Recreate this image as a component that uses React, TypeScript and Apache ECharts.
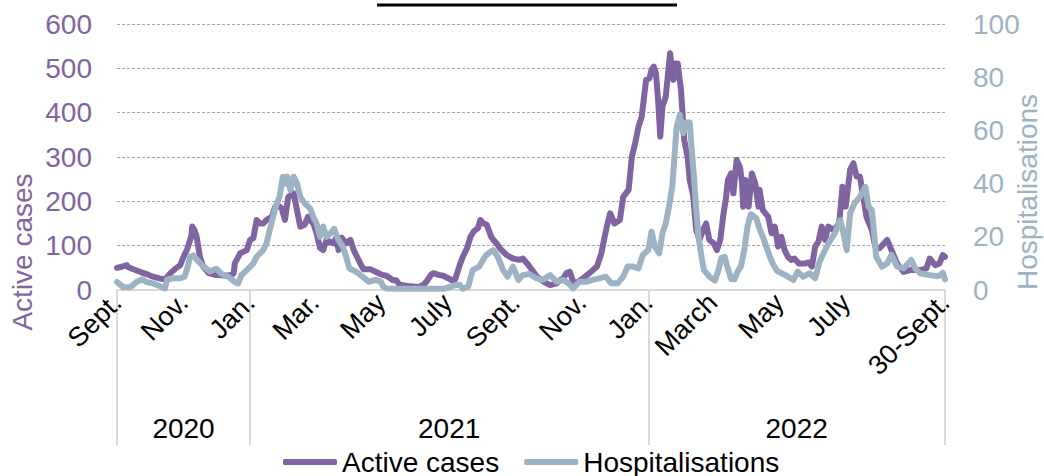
import React, { useEffect, useRef } from "react";
import * as echarts from "echarts";

// Day index from 1 Sept 2020 (0) to 30 Sept 2022 (759)
const activeDays = [0,5,9,10,15,21,27,33,39,44,49,53,58,61,64,68,69,71,73,76,79,84,90,94,100,105,107,108,113,119,122,125,128,131,134,137,142,145,148,151,154,157,160,162,165,168,172,175,178,180,183,186,189,192,198,201,203,206,210,214,217,220,223,226,232,238,243,247,253,256,259,266,272,275,278,281,284,288,290,295,299,304,307,310,314,317,321,324,327,331,333,336,339,343,345,348,351,357,363,369,372,376,379,385,391,397,403,406,409,412,415,418,421,427,433,440,444,447,449,452,456,461,464,469,472,475,478,481,485,488,490,492,494,496,498,500,503,507,510,512,514,517,520,523,525,528,531,534,537,540,543,547,550,553,556,558,560,563,565,568,571,573,574,576,579,582,585,588,589,592,597,600,603,606,609,612,615,618,621,625,631,634,637,640,643,646,649,652,657,662,665,668,672,675,678,681,684,687,692,695,699,706,710,715,721,727,736,742,745,750,754,757,759];
const activeValues = [50,53,56,52,47,41,36,30,26,24,38,47,56,75,90,120,143,135,120,75,53,38,34,34,32,34,38,60,83,90,113,117,158,150,150,158,165,188,190,184,158,210,215,218,180,143,147,165,155,150,128,95,90,113,105,118,90,118,105,113,90,75,60,47,47,40,34,32,22,22,12,9,8,7,8,12,20,35,38,34,32,26,22,24,55,75,95,120,132,140,158,150,147,120,113,105,94,79,71,68,71,60,50,30,19,11,15,22,26,38,41,20,15,26,38,53,83,120,143,173,150,158,210,226,301,331,368,391,474,477,496,504,489,429,346,414,436,534,474,511,511,451,338,301,248,215,135,113,135,150,113,105,90,113,173,203,248,263,218,293,278,241,188,248,188,263,241,188,226,180,165,128,143,98,120,90,75,68,71,60,60,62,53,98,109,143,113,143,135,150,233,188,271,286,256,256,211,165,135,98,94,113,90,60,41,45,45,49,71,56,60,79,75];

const hospDays = [0,3,6,12,18,23,27,33,39,44,46,52,58,62,65,67,70,74,79,85,91,96,102,108,111,114,119,125,128,134,137,140,143,146,149,152,154,156,159,162,165,168,172,177,180,183,186,189,192,195,199,203,207,210,213,219,225,231,237,242,244,247,260,280,300,311,314,317,322,326,332,338,343,345,349,354,358,363,368,372,378,384,390,397,403,409,414,418,424,430,436,442,448,453,459,464,468,473,478,482,487,490,493,497,500,503,506,509,511,513,516,519,522,525,527,529,531,533,536,538,543,548,551,554,557,560,563,566,569,572,575,578,581,586,589,592,595,598,601,605,609,613,617,620,624,629,635,640,644,649,654,658,663,666,669,672,676,681,686,689,692,696,701,706,710,715,721,728,732,736,745,752,755,757,759];
const hospValues = [3,2,1,1,3,4,3,2.5,1.5,0.6,4,4.4,4.4,5,9,12.5,13,11,9,7,8,6,5,3,2.5,5.6,7.5,10,12.5,15,17.5,22.5,27.5,32,35,42.6,40,42.6,37.6,42.6,40,35,32.6,30.7,27.5,25,20,23.8,20,21,23,18.8,16.3,12.5,8.1,6.9,5,3.1,3.8,3.1,1.3,0.6,0.5,0.5,0.5,1.9,2,0.5,1.3,7.5,8.8,13,14.5,15,12.5,7.5,5,8.8,3.8,5.6,6,4.5,3.8,5.6,3.1,3.8,2.5,0.6,3.1,3.1,3.8,4.4,5,2.5,2.5,5,8.8,8.8,8.1,13.2,15,21.9,16.3,13.8,21.3,25,31.3,38.8,50,61.4,65.8,59,63,63,52,42,30,20,12,7.5,5,3.5,7,12,12.5,8,4,4,7,9,15,24,28.5,27,23,20,16.5,13,10,7.2,6.3,5.5,4.5,3.8,6.9,5,6.3,4.4,10.6,15,18.8,21.3,26.3,21.3,15,28.8,32.6,35,38.8,31.3,30,12.5,8.8,10,13.2,8.8,8.1,11.3,8,6.3,5.6,5.2,5.6,6.5,4];

const monthTickDays = [0,61,122,181,242,303,365,426,487,546,607,668,759];
const monthTickLabels = ["Sept.","Nov.","Jan.","Mar.","May","July","Sept.","Nov.","Jan.","March","May","July","30-Sept."];
const yearBoundaryDays = [0,122,487,759];
const yearCenterDays = [61,304.5,623];
const yearLabels = ["2020","2021","2022"];

const seriesNames = ["Active cases", "Hospitalisations"];
const PURPLE = "#8064a2";
const GREY = "#9db3c4";
const FONT = "'Liberation Sans', Arial, sans-serif";

export default function App() {
  const ref = useRef<HTMLDivElement>(null);
  useEffect(() => {
    if (!ref.current) return;
    const chart = echarts.init(ref.current, undefined, { renderer: "svg" });
    const activeData = activeDays.map((d, i) => [d, activeValues[i]]);
    const hospData = hospDays.map((d, i) => [d, hospValues[i]]);
    const monthMap = new Map(monthTickDays.map((d, i) => [d, monthTickLabels[i]]));
    const yearMap = new Map(yearCenterDays.map((d, i) => [d, yearLabels[i]]));
    chart.setOption({
      animation: false,
      textStyle: { fontFamily: FONT },
      grid: { left: 117, right: 99, top: 24, bottom: 186, containLabel: false },
      legend: {
        data: seriesNames,
        left: 283,
        top: 448,
        icon: "roundRect",
        itemWidth: 54,
        itemHeight: 6,
        itemGap: 25,
        padding: 0,
        textStyle: { fontSize: 28, color: "#000", fontFamily: FONT },
      },
      xAxis: [
        {
          type: "value",
          min: 0,
          max: 759,
          position: "bottom",
          splitLine: { show: false },
          axisLine: { show: true, lineStyle: { color: "#d9d9d9", width: 2 } },
          axisTick: {
            show: true,
            customValues: yearBoundaryDays,
            length: 155,
            lineStyle: { color: "#d9d9d9", width: 2 },
          },
          axisLabel: {
            customValues: monthTickDays,
            formatter: (v: number) => monthMap.get(v) ?? "",
            rotate: 45,
            fontSize: 27,
            color: "#000",
            margin: 8,
            fontFamily: FONT,
          },
        },
        {
          type: "value",
          min: 0,
          max: 759,
          position: "bottom",
          offset: 124,
          splitLine: { show: false },
          axisLine: { show: false },
          axisTick: { show: false },
          axisLabel: {
            customValues: yearCenterDays,
            formatter: (v: number) => yearMap.get(v) ?? "",
            fontSize: 28,
            color: "#000",
            margin: 0,
            fontFamily: FONT,
          },
        },
      ],
      yAxis: [
        {
          type: "value",
          min: 0,
          max: 600,
          interval: 100,
          axisLine: { show: false },
          axisTick: { show: false },
          splitLine: { show: true, lineStyle: { color: "#a6a6a6", type: [3, 2], width: 1 } },
          axisLabel: { fontSize: 28, color: PURPLE, margin: 25, fontFamily: FONT },
        },
        {
          type: "value",
          min: 0,
          max: 100,
          interval: 20,
          position: "right",
          axisLine: { show: false },
          axisTick: { show: false },
          splitLine: { show: false },
          axisLabel: { fontSize: 28, color: GREY, margin: 28, fontFamily: FONT },
        },
      ],
      series: [
        {
          name: seriesNames[0],
          type: "line",
          data: activeData,
          xAxisIndex: 0,
          yAxisIndex: 0,
          showSymbol: false,
          symbol: "none",
          color: PURPLE,
          lineStyle: { color: PURPLE, width: 6, join: "round", cap: "round" },
        },
        {
          name: seriesNames[1],
          type: "line",
          data: hospData,
          xAxisIndex: 0,
          yAxisIndex: 1,
          showSymbol: false,
          symbol: "none",
          color: GREY,
          lineStyle: { color: GREY, width: 6, join: "round", cap: "round" },
        },
      ],
      graphic: [
        {
          type: "line",
          shape: { x1: 377, y1: 5, x2: 677, y2: 5 },
          style: { stroke: "#000", lineWidth: 3 },
        },
        {
          type: "text",
          x: 22,
          y: 252,
          rotation: Math.PI / 2,
          style: {
            text: "Active cases",
            fontSize: 28,
            fill: PURPLE,
            fontFamily: FONT,
            align: "center",
            verticalAlign: "middle",
          },
        },
        {
          type: "text",
          x: 1027,
          y: 192,
          rotation: Math.PI / 2,
          style: {
            text: "Hospitalisations",
            fontSize: 28,
            fill: GREY,
            fontFamily: FONT,
            align: "center",
            verticalAlign: "middle",
          },
        },
      ],
    });
    return () => chart.dispose();
  }, []);
  return <div ref={ref} style={{ width: 1044, height: 476, position: "absolute", left: 0, top: 0 }} />;
}
